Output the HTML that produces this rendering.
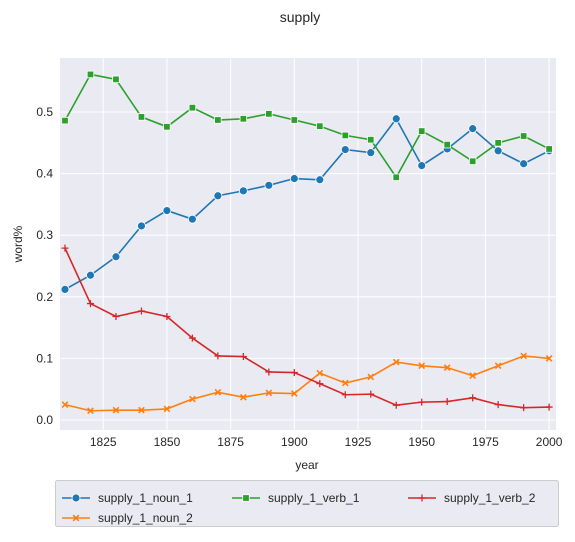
<!DOCTYPE html>
<html><head><meta charset="utf-8"><style>
body{margin:0;background:#fff;font-family:"Liberation Sans",Arial,sans-serif;}
svg text{font-family:"Liberation Sans",Arial,sans-serif;fill:#262626;}
</style></head><body>
<svg id="chart" width="575" height="537">
<text x="300" y="22" font-size="14" text-anchor="middle">supply</text>
<rect x="60" y="58" width="496" height="372" fill="#eaeaf2"/>
<g id="grid"></g><g id="series"></g><g id="ticks"></g>
<text x="307" y="469" font-size="12" text-anchor="middle">year</text>
<text x="22" y="244" font-size="12" text-anchor="middle" transform="rotate(-90 22 244)">word%</text>
<g id="legend">
<rect x="55.5" y="480.5" width="503" height="46" fill="#eaeaf2" stroke="#cccccc" rx="2"/>
</g>
</svg>
<script>
const years=[1810,1820,1830,1840,1850,1860,1870,1880,1890,1900,1910,1920,1930,1940,1950,1960,1970,1980,1990,2000];
const noun1=[0.212,0.235,0.265,0.315,0.340,0.326,0.364,0.372,0.381,0.392,0.390,0.439,0.434,0.489,0.413,0.440,0.473,0.437,0.416,0.437];
const verb1=[0.486,0.561,0.553,0.492,0.476,0.507,0.487,0.489,0.497,0.487,0.477,0.462,0.455,0.394,0.469,0.447,0.420,0.450,0.461,0.440];
const noun2=[0.025,0.015,0.016,0.016,0.018,0.034,0.045,0.037,0.044,0.043,0.076,0.060,0.070,0.094,0.088,0.085,0.072,0.088,0.104,0.100];
const verb2=[0.279,0.189,0.168,0.177,0.168,0.133,0.104,0.103,0.078,0.077,0.059,0.041,0.042,0.024,0.029,0.030,0.036,0.025,0.020,0.021];
const xTicks=[1825,1850,1875,1900,1925,1950,1975,2000];
const yTicks=[0.0,0.1,0.2,0.3,0.4,0.5];
const NS='http://www.w3.org/2000/svg';
function X(v){return 65+(v-1810)*63.7/25;}
function Y(v){return 420-v*616;}
function mk(t,a,p){const e=document.createElementNS(NS,t);for(const k in a)e.setAttribute(k,a[k]);p.appendChild(e);return e;}
const grid=document.getElementById('grid'),ticks=document.getElementById('ticks'),ser=document.getElementById('series'),leg=document.getElementById('legend');
xTicks.forEach(t=>{const l=mk('line',{x1:X(t),x2:X(t),y1:58,y2:430,stroke:'#fff','stroke-width':1},grid);


const tx=mk('text',{x:X(t),y:446,'font-size':12,'text-anchor':'middle'},ticks);tx.textContent=t;

});
yTicks.forEach(t=>{const l=mk('line',{x1:60,x2:556,y1:Y(t),y2:Y(t),stroke:'#fff','stroke-width':1},grid);


const tx=mk('text',{x:53,y:Y(t)+4,'font-size':12,'text-anchor':'end'},ticks);tx.textContent=t.toFixed(1);

});
function marker(type,x,y,c,p){
 if(type==='o')return mk('circle',{cx:x,cy:y,r:4,fill:c,stroke:'#fff','stroke-width':0.8},p);
 if(type==='s')return mk('rect',{x:x-3.3,y:y-3.3,width:6.6,height:6.6,fill:c,stroke:'#fff','stroke-width':0.8},p);
 if(type==='x')return mk('path',{d:`M${x-2.8} ${y-2.8}L${x+2.8} ${y+2.8}M${x-2.8} ${y+2.8}L${x+2.8} ${y-2.8}`,stroke:c,'stroke-width':1.6},p);
 return mk('path',{d:`M${x-3.5} ${y}L${x+3.5} ${y}M${x} ${y-3.5}L${x} ${y+3.5}`,stroke:c,'stroke-width':1.3},p);
}
const S=[['supply_1_noun_1',noun1,'#1f77b4','o'],['supply_1_noun_2',noun2,'#ff7f0e','x'],['supply_1_verb_1',verb1,'#2ca02c','s'],['supply_1_verb_2',verb2,'#d62728','+']];
S.forEach(([n,d,c,m])=>{const g=mk('g',{},ser);


mk('polyline',{points:d.map((v,i)=>X(years[i])+','+Y(v)).join(' '),fill:'none',stroke:c,'stroke-width':1.6},g);
d.forEach((v,i)=>{const e=marker(m,X(years[i]),Y(v),c,g);

});});
const lp=[[62,498],[62,518],[232,498],[408,498]];
S.forEach(([n,d,c,m],i)=>{const [x,y]=lp[i];const g=mk('g',{},leg);


mk('line',{x1:x,x2:x+28,y1:y,y2:y,stroke:c,'stroke-width':1.6},g);marker(m,x+14,y,c,g);
const t=mk('text',{x:x+36,y:y+4,'font-size':12},g);t.textContent=n;});
</script>
</body></html>
